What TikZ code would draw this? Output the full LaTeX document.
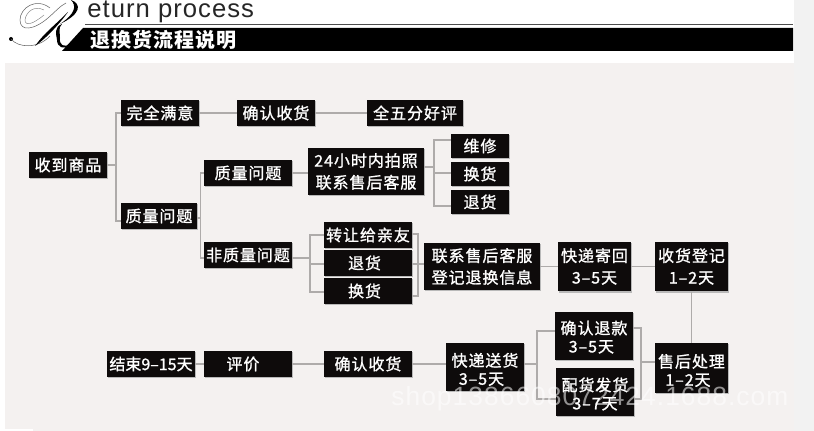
\documentclass[tikz,border=0pt]{standalone}
\usepackage{fontspec}
\usepackage{tikz}
\usetikzlibrary{shadows}
\newfontfamily\cjk{Noto Sans CJK SC}[LetterSpace=6,FakeBold=1.2]
\newfontfamily\cjktight{Noto Sans CJK SC}[FakeBold=1.2]
\newfontfamily\cjktitle{Noto Sans CJK SC}[LetterSpace=5]
\newfontfamily\latintitle{Liberation Sans}[LetterSpace=4]
\newcommand{\lowtext}[1]{\rule{0pt}{10.5pt}#1}
\definecolor{panelbg}{HTML}{F4F1F0}
\definecolor{stripbg}{HTML}{F2F2F2}
\definecolor{boxfill}{HTML}{0E0B0B}
\definecolor{linkgray}{HTML}{AEABAA}
\tikzset{
  box/.style={fill=boxfill,text=white,inner sep=0pt,align=center,
    font=\cjk\fontsize{9.1}{12.4}\selectfont,
    copy shadow={shadow xshift=0.6pt,shadow yshift=-0.8pt,fill=gray!55,draw=none}},
  wbox/.style={box,minimum width=1.56cm,minimum height=0.52cm},
  mbox/.style={box,minimum width=1.76cm,minimum height=0.52cm},
  sbox/.style={box,minimum width=1.16cm,minimum height=0.48cm},
  tbox/.style={box,minimum width=2.32cm,minimum height=0.94cm},
  dbox/.style={box,minimum width=1.46cm,minimum height=1cm},
  cbox/.style={box,minimum width=1.56cm,minimum height=0.96cm,
    font=\cjk\fontsize{9.1}{10.4}\selectfont},
  link/.style={draw=linkgray,line width=0.65pt},
}
\begin{document}
\begin{tikzpicture}[x=0.02cm,y=-0.02cm]
\useasboundingbox (0,0) rectangle (814,431);

% Backgrounds
\fill[white] (0,0) rectangle (814,431);
\fill[stripbg] (794,0) rectangle (814,431);
\fill[panelbg] (5,63) rectangle (794,431);
\fill[white] (5,429) rectangle (33,431);

% Header
\draw[black!70,line width=0.6pt] (85,24.5)--(793,24.5);
\fill[black] (62,51)--(83,28)--(793,28)--(793,51)--cycle;
\node[anchor=base west,inner sep=0pt,text=black!85,font=\latintitle\fontsize{14.6}{15}\selectfont] (entitle) at (87,18) {eturn process};
\node[anchor=west,inner sep=0pt,text=white,font=\cjktitle\bfseries\fontsize{11.4}{12}\selectfont] (cntitle) at (90,40) {退换货流程说明};

% Script letter
\fill[black] (11,39) circle (2);
\draw[black!60,line width=0.3pt] (11,39) .. controls (18,48) and (38,49) .. (50,36);
\draw[black!60,line width=0.3pt] (50,8) .. controls (36,-3) and (20,8) .. (20,20) .. controls (20,32) and (34,30) .. (48,18) .. controls (55,12) and (60,6) .. (66,3);
\draw[black!50,line width=0.25pt] (44,10) .. controls (34,5) and (26,12) .. (25,20) .. controls (25,26) and (32,25) .. (44,15);
\fill[black] (35,46) .. controls (44,40) and (58,26) .. (68,12) .. controls (60,20) and (52,27) .. (46,33) .. controls (41,38) and (38,42) .. cycle;
\fill[black] (71,0) .. controls (82,4) and (81,14) .. (60,24) .. controls (75,14) and (77,6) .. cycle;
\fill[black] (62,24) .. controls (54,27) and (56,34) .. (57,40) .. controls (57,47) and (64,51) .. (70,44) .. controls (64,48) and (59,45) .. (60,38) .. controls (60,32) and (58,28) .. cycle;

% Top row
\node[wbox] (goods) at (68,165) {收到商品};
\node[wbox] (happy) at (160,113) {完全满意};
\node[wbox] (signa) at (276,113) {确认收货};
\node[box,minimum width=1.92cm,minimum height=0.52cm] (praise) at (415,113) {全五分好评};

% Quality branch
\node[box,minimum width=1.52cm,minimum height=0.52cm] (issue) at (159,216) {质量问题};
\node[mbox] (qual) at (248,173) {质量问题};
\node[tbox] (photo) at (366,171.5) {24小时内拍照\\联系售后客服};
\node[sbox] (fix) at (480,146) {维修};
\node[sbox] (swapa) at (480,174) {换货};
\node[sbox] (backa) at (480,202) {退货};

% Non quality branch
\node[mbox] (nonq) at (248,255) {非质量问题};
\node[mbox] (gift) at (368,235) {转让给亲友};
\node[mbox] (backb) at (368,263) {退货\hspace*{4pt}};
\node[mbox] (swapb) at (368,291) {换货\hspace*{4pt}};
\node[tbox] (contact) at (482,266.5) {联系售后客服\\登记退换信息};
\node[dbox] (mailb) at (594.5,266.5) {快递寄回\\3–5天};
\node[dbox] (recv) at (691.5,266.5) {收货登记\\1–2天};

% Bottom row
\node[dbox,font=\cjk\fontsize{9.1}{10.4}\selectfont] (after) at (691.5,368) {\lowtext{售后处理}\\1–2天\hspace*{4pt}};
\node[cbox] (refund) at (594,336) {\rule{0pt}{9pt}确认退款\\3–5天\hspace*{3pt}};
\node[cbox] (ship) at (595,392) {\rule{0pt}{10pt}配货发货\\3–7天};
\node[cbox] (mailf) at (485,367) {\lowtext{快递送货}\\3–5天\hspace*{4pt}};
\node[mbox] (signb) at (368,364) {确认收货};
\node[mbox] (rate) at (248,364) {评价\hspace*{5.7pt}};
\node[mbox,font=\cjktight\fontsize{9.1}{12}\selectfont] (finish) at (151,364) {结束9–15天};

% Junction points
\coordinate (j1) at (116,165);
\coordinate (j2) at (200.5,218);
\coordinate (j3) at (434,167);
\coordinate (j4) at (310,258);
\coordinate (j5) at (418,264);
\coordinate (j6) at (641,362);
\coordinate (j7) at (537,364);
\coordinate (issuein) at (121,221);
\coordinate (issueout) at (197,218);
\coordinate (photoin) at (308,173);
\coordinate (photoout) at (424,167);
\coordinate (fixin) at (451,140);
\coordinate (swapin) at (451,173);
\coordinate (backin) at (451,206);
\coordinate (nonqin) at (204,258);
\coordinate (nonqout) at (292,258);
\coordinate (giftin) at (324,235);
\coordinate (backbin) at (324,264);
\coordinate (swapbin) at (324,292);
\coordinate (giftout) at (412,234);
\coordinate (backbout) at (412,264);
\coordinate (swapbout) at (412,296);
\coordinate (contactin) at (424,264);
\coordinate (afterin) at (655,362);
\coordinate (refundin) at (555,331);
\coordinate (shipin) at (556,399);
\coordinate (refundout) at (633,328);
\coordinate (shipout) at (634,399);
\coordinate (mailfin) at (446,364);
\coordinate (mailfout) at (524,364);

% Connectors
\draw[link] (goods.east)--(j1);
\draw[link] (j1)|-(happy.west);
\draw[link] (j1)|-(issuein);
\draw[link] (happy.east)--(signa.west);
\draw[link] (signa.east)--(praise.west);
\draw[link] (issueout)--(j2);
\draw[link] (j2)|-(qual.west);
\draw[link] (j2)|-(nonqin);
\draw[link] (qual.east)--(photoin);
\draw[link] (photoout)--(j3);
\draw[link] (j3)|-(fixin);
\draw[link] (j3)|-(swapin);
\draw[link] (j3)|-(backin);
\draw[link] (nonqout)--(j4);
\draw[link] (j4)|-(giftin);
\draw[link] (j4)|-(backbin);
\draw[link] (j4)|-(swapbin);
\draw[link] (j5)|-(giftout);
\draw[link] (j5)|-(swapbout);
\draw[link] (backbout)--(j5);
\draw[link] (j5)--(contactin);
\draw[link] (contact.east)--(mailb.west);
\draw[link] (mailb.east)--(recv.west);
\draw[link] (recv.south)--(after.north);
\draw[link] (afterin)--(j6);
\draw[link] (j6)|-(refundout);
\draw[link] (j6)|-(shipout);
\draw[link] (mailfout)--(j7);
\draw[link] (j7)|-(refundin);
\draw[link] (j7)|-(shipin);
\draw[link] (signb.east)--(mailfin);
\draw[link] (rate.east)--(signb.west);
\draw[link] (finish.east)--(rate.west);

% Watermark
\node[anchor=west,inner sep=0pt,text=white,text opacity=0.55,font=\latintitle\fontsize{15}{15}\selectfont] (mark) at (391,399) {shop1386608072424.1688.com};

\end{tikzpicture}
\end{document}
